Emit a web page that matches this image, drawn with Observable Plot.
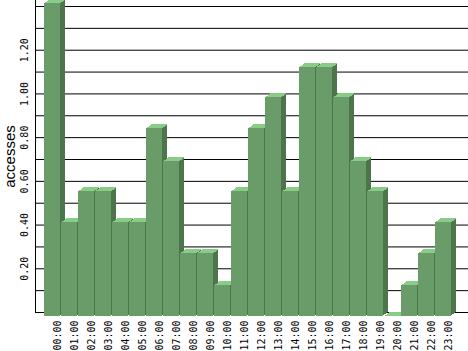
<!DOCTYPE html>
<html><head><meta charset="utf-8">
<script src="https://cdn.jsdelivr.net/npm/d3@7"></script>
<script src="https://cdn.jsdelivr.net/npm/@observablehq/plot@0.6"></script>
<style>html,body{margin:0;padding:0;background:#fff}svg{display:block}</style>
</head><body><div id="chart"></div>
<script>
const hours = ["00:00","01:00","02:00","03:00","04:00","05:00","06:00","07:00","08:00","09:00","10:00","11:00",
               "12:00","13:00","14:00","15:00","16:00","17:00","18:00","19:00","20:00","21:00","22:00","23:00"];
const accesses = [1.43,0.43,0.57,0.57,0.43,0.43,0.86,0.71,0.29,0.29,0.14,0.57,
                  0.86,1.00,0.57,1.14,1.14,1.00,0.71,0.57,0.00,0.14,0.29,0.43];
const gridValues = [0,0.1,0.2,0.3,0.4,0.5,0.6,0.7,0.8,0.9,1.0,1.1,1.2,1.3,1.4];
const yTickLabels = [0.2,0.4,0.6,0.8,1.0,1.2];
const yLabel = "accesses";

const data = hours.map((h, i) => ({hour: h, value: accesses[i]}));
const frontColor = "#699c69", sideColor = "#4c754c", topColor = "#88cc88";
const mono = "DejaVu Sans Mono";
const depth = [4, 3, 2, 1];

const chart = Plot.plot({
  width: 468, height: 351,
  marginLeft: 35, marginRight: 0, marginTop: 0, marginBottom: 39,
  style: {background: "#fff", overflow: "visible"},
  x: {type: "band", domain: hours, range: [40, 454.3], paddingInner: 0.077, paddingOuter: 0, axis: null},
  y: {domain: [0, 1.4274], axis: null},
  marks: [
    Plot.ruleY(gridValues, {stroke: "#000", strokeWidth: 1, strokeOpacity: 1}),
    Plot.frame({anchor: "left", stroke: "#000", strokeOpacity: 1}),
    ...depth.map(k => Plot.barY(data, {x: "hour", y: "value", fill: sideColor, dx: 1.25 * k, dy: 4 - k, shapeRendering: "crispEdges"})),
    ...depth.map(k => Plot.tickY(data, {x: "hour", y: "value", stroke: topColor, strokeWidth: 1, dx: 1.25 * k, dy: 4 - k, shapeRendering: "crispEdges"})),
    Plot.barY(data, {x: "hour", y: "value", fill: frontColor, dy: 4, shapeRendering: "crispEdges"}),
    Plot.text(hours, {x: d => d, text: d => d, frameAnchor: "bottom", dy: 8, dx: 5, rotate: -90,
      textAnchor: "end", lineAnchor: "middle", fontFamily: mono, fontSize: 10, fill: "#000"}),
    Plot.text(yTickLabels, {y: d => d, text: d => d.toFixed(2), frameAnchor: "left", dx: -8, rotate: -90,
      textAnchor: "middle", lineAnchor: "bottom", fontFamily: mono, fontSize: 10, fill: "#000"}),
    Plot.text([yLabel], {text: d => d, frameAnchor: "left", dx: -21, rotate: -90,
      textAnchor: "middle", lineAnchor: "bottom", fontFamily: "Liberation Sans", fontSize: 15, fill: "#000"})
  ]
});
document.getElementById("chart").appendChild(chart);
</script>
</body></html>
